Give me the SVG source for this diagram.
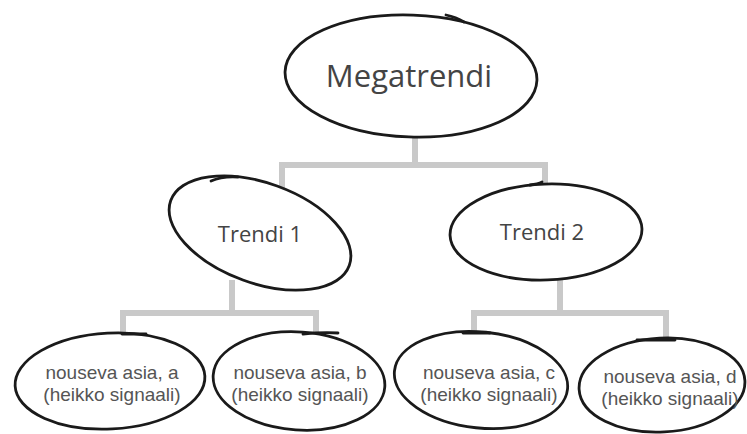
<svg xmlns="http://www.w3.org/2000/svg" width="747" height="434" viewBox="0 0 747 434">
<style>
.conn{stroke:#c9c9c9;stroke-width:6;fill:none;stroke-linecap:butt}
.oval{fill:#fff;stroke:#1a1a1a;stroke-width:2.8}
.tail{fill:none;stroke:#1a1a1a;stroke-width:2.8;stroke-linecap:round}
.t{font-family:"Open Sans","Liberation Sans",sans-serif;fill:#444;text-anchor:middle}
.big{font-size:31px}
.mid{font-size:22px}
.small{font-family:"Liberation Sans",Arial,sans-serif;font-size:19px;fill:#555}
</style>
<rect width="747" height="434" fill="#fff"/>
<g id="connectors">
<path class="conn" d="M415 135V165M279 165H548M282 162V190M545 162V195"/>
<path class="conn" d="M232 280V316M120 313H319M123 310V342M316 310V342"/>
<path class="conn" d="M560 275V316M471 313H669M474 310V342M666 310V345"/>
</g>
<g id="megatrendi">
<ellipse class="oval" cx="411" cy="76" rx="126" ry="61" transform="rotate(2 411 76)"/>
<path class="tail" d="M446 15Q456 17 464 22"/>
<text class="t big" x="409" y="87">Megatrendi</text>
</g>
<g id="trendi1">
<ellipse class="oval" cx="260" cy="233" rx="95" ry="50" transform="rotate(20 260 233)"/>
<path class="tail" d="M211 181Q222 176 238 177"/>
<text class="t mid" x="260" y="242">Trendi 1</text>
</g>
<g id="trendi2">
<ellipse class="oval" cx="546" cy="232" rx="96" ry="48" transform="rotate(-2 546 232)"/>
<path class="tail" d="M530 185Q538 184 542 182"/>
<text class="t mid" x="542" y="240">Trendi 2</text>
</g>
<g id="asia-a">
<ellipse class="oval" cx="110" cy="381" rx="95" ry="48" transform="rotate(-3 110 381)"/>
<path class="tail" d="M122 334H146"/>
<text class="t small" x="112" y="379">nouseva asia, a</text>
<text class="t small" x="112" y="401">(heikko signaali)</text>
</g>
<g id="asia-b">
<ellipse class="oval" cx="299" cy="381" rx="86" ry="49" transform="rotate(4 299 381)"/>
<path class="tail" d="M303 334Q322 332 338 333"/>
<text class="t small" x="300" y="379">nouseva asia, b</text>
<text class="t small" x="300" y="401">(heikko signaali)</text>
</g>
<g id="asia-c">
<ellipse class="oval" cx="481" cy="380" rx="87" ry="48" transform="rotate(6 481 380)"/>
<path class="tail" d="M463 333H490"/>
<text class="t small" x="489" y="379">nouseva asia, c</text>
<text class="t small" x="489" y="401">(heikko signaali)</text>
</g>
<g id="asia-d">
<ellipse class="oval" cx="662" cy="385" rx="83" ry="47" transform="rotate(-3 662 385)"/>
<path class="tail" d="M637 340H675"/>
<text class="t small" x="670" y="383">nouseva asia, d</text>
<text class="t small" x="670" y="405">(heikko signaali)</text>
</g>
</svg>
